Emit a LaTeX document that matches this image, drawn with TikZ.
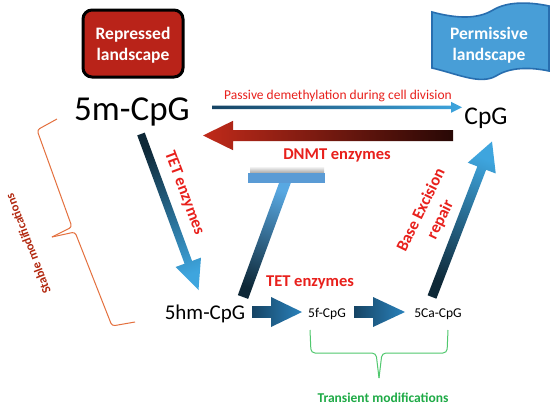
\documentclass[tikz,border=0pt]{standalone}
\usepackage{fontspec}
\setmainfont{Carlito}
\usetikzlibrary{calc}
\definecolor{lblred}{RGB}{232,32,28}
\definecolor{boxred}{RGB}{185,35,25}
\definecolor{flagblue}{RGB}{72,158,215}
\definecolor{flagedge}{RGB}{40,110,175}
\definecolor{inkdark}{RGB}{14,40,55}
\definecolor{inklight}{RGB}{62,165,222}
\definecolor{midblue}{RGB}{22,68,100}
\definecolor{midblue2}{RGB}{42,130,188}
\definecolor{dnmtdark}{RGB}{40,8,5}
\definecolor{dnmtred}{RGB}{192,42,26}
\definecolor{barblue}{RGB}{90,155,213}
\definecolor{stembot}{RGB}{14,40,55}
\definecolor{stemtop}{RGB}{88,168,226}
\definecolor{stableorange}{RGB}{228,112,62}
\definecolor{stabletext}{RGB}{178,40,15}
\definecolor{transgreen}{RGB}{30,170,70}
\definecolor{bracegreen}{RGB}{80,200,110}
\newcommand{\blockarr}[6]{%
  \coordinate (hb) at ($(#2)!#5!(#1)$);
  \shade[#6] ($(#1)!#3!90:(#2)$) -- ($(hb)!#3!90:(#2)$) -- ($(hb)!#4!90:(#2)$) -- (#2)
    -- ($(hb)!#4!-90:(#2)$) -- ($(hb)!#3!-90:(#2)$) -- ($(#1)!#3!-90:(#2)$) -- cycle;
}
\tikzset{
  big/.style={inner sep=0pt, anchor=base, text=black},
  redlbl/.style={inner sep=0pt, anchor=base, text=lblred},
  landtext/.style={inner sep=0pt, text=white, align=center, font=\bfseries\fontsize{17.5}{20.5}\selectfont},
}
\begin{document}
\begin{tikzpicture}[x=1pt,y=-1pt]
\useasboundingbox (0,0) rectangle (553,407);
\fill[white] (0,0) rectangle (553,407);

% landscapes
\draw[line width=3pt, rounded corners=9pt, fill=boxred] (83,10) rectangle (183,77);
\node[landtext] (rep) at (133,45) {Repressed\\landscape};
\draw[line width=1.6pt, draw=flagedge, fill=flagblue]
  (432,12) .. controls (458,19) and (478,19) .. (493,10)
  .. controls (508,1) and (530,2) .. (549,6) -- (549,71)
  .. controls (530,67) and (510,67) .. (496,76)
  .. controls (480,85) and (458,74) .. (432,68) -- cycle;
\node[landtext] (perm) at (489,45) {Permissive\\landscape};

% main species
\node[big, font=\fontsize{35}{40}\selectfont] (m5) at (132,120) {5m-CpG};
\node[big, font=\fontsize{25.5}{30}\selectfont] (cpg) at (486,124) {CpG};
\node[big, font=\fontsize{21}{25}\selectfont] (hm5) at (205,319) {5hm-CpG};
\node[big, font=\fontsize{13.5}{16}\selectfont] (f5) at (327,317) {5f-CpG};
\node[big, font=\fontsize{13.5}{16}\selectfont] (ca5) at (438,317) {5Ca-CpG};

% arrow end points
\coordinate (pasA) at (212,107.3);
\coordinate (pasB) at (462,107.3);
\coordinate (dnA) at (453,135.5);
\coordinate (dnB) at (203,135.5);
\coordinate (tetA) at (141,134);
\coordinate (tetB) at (198.5,290);
\coordinate (h5A) at (252,312);
\coordinate (h5B) at (302,312);
\coordinate (f5A) at (354,312);
\coordinate (f5B) at (405,312);
\coordinate (berA) at (432,297);
\coordinate (berB) at (492,141.5);
\coordinate (stemB) at (243,297);
\coordinate (stemT) at (286,180);

% arrows
\blockarr{pasA}{pasB}{1.7pt}{5.5pt}{11pt}{bottom color=midblue, top color=inklight, shading angle=-90}
\blockarr{dnA}{dnB}{5.5pt}{14.7pt}{30pt}{bottom color=dnmtdark, top color=dnmtred, shading angle=90}
\blockarr{tetA}{tetB}{4pt}{13.5pt}{29.5pt}{bottom color=inkdark, top color=inklight, shading angle=-159.5}
\blockarr{h5A}{h5B}{5.8pt}{15pt}{31pt}{bottom color=midblue, top color=midblue2, shading angle=-90}
\blockarr{f5A}{f5B}{5.8pt}{15pt}{32pt}{bottom color=midblue, top color=midblue2, shading angle=-90}
\blockarr{berA}{berB}{4.7pt}{15pt}{28.5pt}{bottom color=inkdark, top color=inklight, shading angle=-21.5}

% inhibition T
\shade[top color=white, bottom color=black!35] (250,166) rectangle (324,173);
\shade[bottom color=stembot, top color=stemtop, shading angle=-20.3]
  ($(stemB)!5.5pt!90:(stemT)$) -- ($(stemT)!5.5pt!-90:(stemB)$)
  -- ($(stemT)!5.5pt!90:(stemB)$) -- ($(stemB)!5.5pt!-90:(stemT)$) -- cycle;
\fill[barblue] (248,173) rectangle (325,183);

% labels
\node[redlbl, font=\fontsize{13.5}{16}\selectfont] (lpas) at (338,99) {Passive demethylation during cell division};
\node[redlbl, font=\bfseries\fontsize{16.5}{19}\selectfont] (ldn) at (337,159) {DNMT enzymes};
\node[inner sep=0pt, text=lblred, font=\bfseries\fontsize{16.5}{19}\selectfont, rotate=-69.5] (ltet1) at (184,193) {TET enzymes};
\node[redlbl, font=\bfseries\fontsize{16.5}{19}\selectfont] (ltet2) at (310,286) {TET enzymes};
\node[inner sep=0pt, text=lblred, align=center, font=\bfseries\fontsize{16.5}{21.5}\selectfont, rotate=64] (lber) at (431,215) {Base Excision\\repair};

% brackets
\draw[stableorange, line width=1pt, rounded corners=3pt]
  (57,119) -- (37,130) -- (72,227) -- (52,237);
\draw[stableorange, line width=1pt, rounded corners=3pt]
  (52,237) -- (75,232) -- (112,326) -- (135,322);
\node[inner sep=0pt, text=stabletext, font=\bfseries\fontsize{12.5}{15}\selectfont, rotate=111] (lstable) at (28,244) {Stable modifications};

\draw[bracegreen, line width=1pt, rounded corners=4pt]
  (310,330) -- (311,353) -- (376,353) -- (379,378);
\draw[bracegreen, line width=1pt, rounded corners=4pt]
  (379,378) -- (382,353) -- (447,353) -- (448,330);
\node[inner sep=0pt, anchor=base, text=transgreen, font=\bfseries\fontsize{13.5}{16}\selectfont] (ltrans) at (383,402) {Transient modifications};
\end{tikzpicture}
\end{document}
